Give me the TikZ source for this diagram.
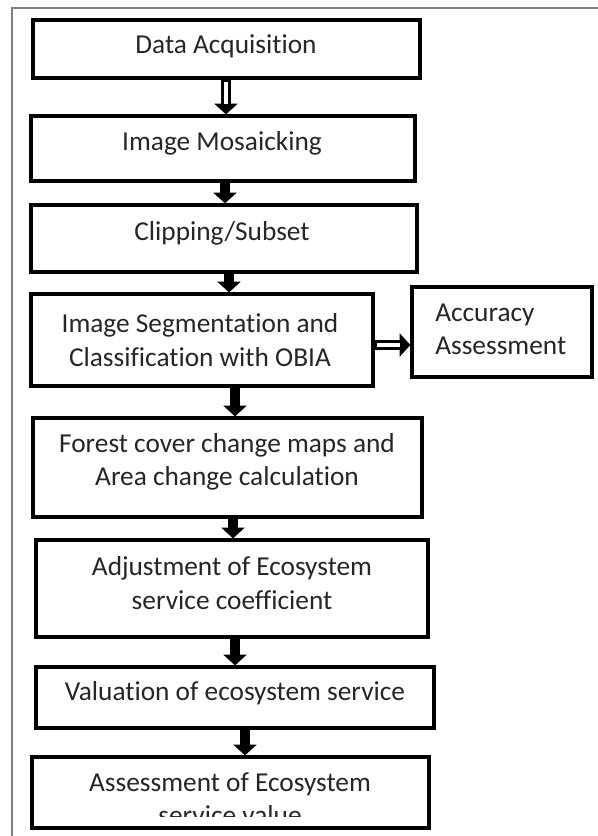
\documentclass[tikz,border=0pt]{standalone}
\usepackage{fontspec}
\setmainfont{Carlito}[Ligatures=NoCommon]
\usetikzlibrary{arrows.meta}
\begin{document}
\begin{tikzpicture}[x=0.75pt,y=-0.75pt,
  box/.style={draw=black, line width=2.4pt, rectangle, inner sep=0pt},
  bx/.style 2 args={minimum width=#1*0.75pt, minimum height=#2*0.75pt},
  lbl/.style={font=\fontsize{20.5}{25}\selectfont, text=black!85, align=center, inner sep=0pt},
  down/.style={line width=7pt, -{Triangle[length=8pt,width=17pt]}},
  dbl/.style={line width=7pt, -{Triangle[length=8pt,width=17pt]}},
  dblin/.style={white, line width=2.6pt, shorten >=7.5pt, shorten <=1.6pt},
  frame/.style={draw=gray, line width=1.3pt}
]
\useasboundingbox (0,0) rectangle (598,836);
\fill[white] (0,0) rectangle (598,836);
\draw[frame] (598,8) -- (12,8) -- (12,836);

% boxes
\node[box, bx={387}{58}] (b1) at (226.5,49) {};
\node[box, bx={384}{65}] (b2) at (223,148.5) {};
\node[box, bx={386}{67}] (b3) at (224,238.5) {};
\node[box, bx={342}{92}] (b4) at (202,340) {};
\node[box, bx={180}{90}] (acc) at (502,332) {};
\node[box, bx={389}{99}] (b5) at (227.5,467.5) {};
\node[box, bx={392}{97}] (b6) at (232,588.5) {};
\node[box, bx={398}{61}] (b7) at (235,697.5) {};
\node[box, bx={397}{71}] (b8) at (230.5,792.5) {};

% labels
\node[lbl] (t1) at (226,46) {Data Acquisition};
\node[lbl] (t2) at (222,143) {Image Mosaicking};
\node[lbl] (t3) at (222,233) {Clipping/Subset};
\node[lbl] (t4) at (200,340) {Image Segmentation and\\Classification with OBIA};
\node[lbl, align=left, anchor=west] (tacc) at (435,329) {Accuracy\\Assessment};
\node[lbl] (t5) at (227,462) {Forest cover change maps and\\Area change calculation};
\node[lbl] (t6) at (232,583) {Adjustment of Ecosystem\\service coefficient};
\node[lbl] (t7) at (235,693) {Valuation of ecosystem service};
\begin{scope}
\clip (0,740) rectangle (598,816);
\node[lbl, anchor=north] (t8) at (230,772) {Assessment of Ecosystem\\service value};
\end{scope}

% arrow columns
\coordinate (x12) at (226,0);
\coordinate (x23) at (225,0);
\coordinate (x34) at (229,0);
\coordinate (x45) at (235,0);
\coordinate (x56) at (233,0);
\coordinate (x67) at (235,0);
\coordinate (x78) at (245,0);
\coordinate (yacc) at (0,345);

\draw[dbl] (b1.south -| x12) -- (b2.north -| x12);
\draw[dblin] (b1.south -| x12) -- (b2.north -| x12);
\draw[down] (b2.south -| x23) -- (b3.north -| x23);
\draw[down] (b3.south -| x34) -- (b4.north -| x34);
\draw[down] (b4.south -| x45) -- (b5.north -| x45);
\draw[down] (b5.south -| x56) -- (b6.north -| x56);
\draw[down] (b6.south -| x67) -- (b7.north -| x67);
\draw[down] (b7.south -| x78) -- (b8.north -| x78);
\draw[dbl] (b4.east |- yacc) -- (acc.west |- yacc);
\draw[dblin] (b4.east |- yacc) -- (acc.west |- yacc);
\end{tikzpicture}
\end{document}
